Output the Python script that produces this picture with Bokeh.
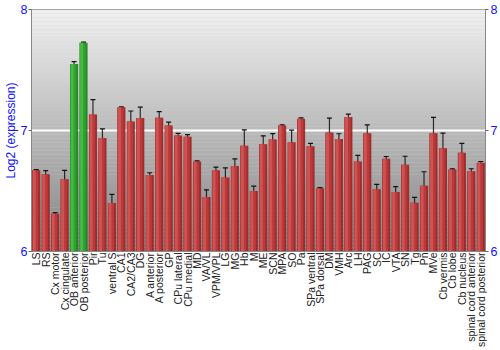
import math
from bokeh.plotting import figure
from bokeh.models import (ColumnDataSource, FactorRange, Range1d, LinearAxis, FixedTicker,
                          Whisker, TeeHead, BoxAnnotation)
from bokeh.transform import dodge
from bokeh.embed import file_html
from bokeh.resources import INLINE

categories = ["LS", "RS", "Cx motor", "Cx cingulate", "OB anterior", "OB posterior", "Pir", "Tu",
              "ventral S", "CA1", "CA2/CA3", "DG", "A anterior", "A posterior", "GP", "CPu lateral",
              "CPu medial", "MD", "VA/VL", "VPM/VPL", "LG", "MG", "Hb", "M", "ME", "SCN", "MPA", "SO",
              "Pa", "SPa ventral", "SPa dorsal", "DM", "VMH", "Arc", "LH", "PAG", "SC", "IC", "VTA",
              "SN", "Tg", "Pn", "MVe", "Cb vermis", "Cb lobe", "Cb nucleus", "spinal cord anterior",
              "spinal cord posterior"]
values = [6.672, 6.639, 6.311, 6.597, 7.550, 7.725, 7.133, 6.939,
          6.400, 7.192, 7.075, 7.103, 6.633, 7.106, 7.042, 6.958,
          6.948, 6.744, 6.450, 6.672, 6.611, 6.706, 6.875, 6.500, 6.886, 6.925, 7.042, 6.903,
          7.097, 6.869, 6.522, 6.983, 6.930, 7.111, 6.744, 6.978, 6.514, 6.767, 6.492,
          6.717, 6.403, 6.544, 6.978, 6.853, 6.678, 6.817, 6.664,
          6.733]
errors = [0.005, 0.030, 0.010, 0.073, 0.020, 0.005, 0.122, 0.074,
          0.072, 0.004, 0.086, 0.090, 0.018, 0.050, 0.028, 0.018,
          0.018, 0.005, 0.060, 0.026, 0.080, 0.060, 0.130, 0.040, 0.070, 0.050, 0.005, 0.100,
          0.007, 0.025, 0.006, 0.120, 0.043, 0.025, 0.050, 0.068, 0.040, 0.018, 0.044,
          0.070, 0.044, 0.115, 0.130, 0.125, 0.005, 0.077, 0.020,
          0.011]
highlight = ["OB anterior", "OB posterior"]
y_ticks = [6, 7, 8]

BLUE = "#1010ff"

dark = ["#1f7f1f" if c in highlight else "#9a2424" for c in categories]
mid = ["#2fa52f" if c in highlight else "#c03a3a" for c in categories]
light = ["#48bd48" if c in highlight else "#d25656" for c in categories]

src = ColumnDataSource(dict(cat=categories, val=values,
                            lo=[v - e for v, e in zip(values, errors)],
                            hi=[v + e for v, e in zip(values, errors)],
                            dark=dark, mid=mid, light=light))

p = figure(width=500, height=350, x_range=FactorRange(factors=categories, range_padding=0),
           y_range=Range1d(6, 8), output_backend="svg", toolbar_location=None,
           min_border_left=0, min_border_right=0, min_border_top=9, min_border_bottom=0)
p.outline_line_color = "#888888"
p.background_fill_color = "#cccccc"
p.border_fill_color = "white"

# vertical gradient background
N = 60
for i in range(N):
    t = i / (N - 1)
    g = int(round(0x84 + (0xf0 - 0x84) * t))
    col = "#%02x%02x%02x" % (g, g, g)
    b = p.y_range.start + (p.y_range.end - p.y_range.start) * i / N
    tp = p.y_range.start + (p.y_range.end - p.y_range.start) * (i + 1) / N
    p.add_layout(BoxAnnotation(bottom=b, top=tp, fill_color=col, fill_alpha=1.0,
                               line_color=None, level="image"))

# bars with cylinder-like shading
p.vbar(x="cat", top="val", bottom=6, width=0.86, source=src, fill_color="dark",
       line_color=None, fill_alpha=0.92)
p.vbar(x=dodge("cat", -0.08, range=p.x_range), top="val", bottom=6, width=0.62, source=src,
       fill_color="mid", line_color=None, fill_alpha=0.92)
p.vbar(x=dodge("cat", -0.2, range=p.x_range), top="val", bottom=6, width=0.3, source=src,
       fill_color="light", line_color=None, fill_alpha=0.9)

w = Whisker(base="cat", lower="lo", upper="hi", source=src, line_color="#111111",
            line_width=1.2, line_alpha=0.85,
            upper_head=TeeHead(size=5, line_color="#111111", line_width=1.2),
            lower_head=TeeHead(size=5, line_color="#111111", line_width=1.2))
p.add_layout(w)

# grid
p.xgrid.visible = False
p.ygrid.ticker = FixedTicker(ticks=[7])
p.ygrid.grid_line_color = "white"
p.ygrid.grid_line_width = 2
p.ygrid.level = "underlay"

# left axis
ya = p.yaxis[0]
ya.ticker = FixedTicker(ticks=y_ticks)
ya.axis_label = "Log2 (expression)"
ya.axis_label_text_color = BLUE
ya.axis_label_text_font = "Liberation Sans"
ya.axis_label_text_font_size = "12px"
ya.axis_label_text_font_style = "normal"
ya.axis_label_standoff = 0
ya.major_label_text_color = BLUE
ya.major_label_text_font = "Liberation Sans"
ya.major_label_text_font_size = "12.5px"
ya.major_label_standoff = 1
ya.major_tick_out = 3
ya.major_tick_in = 0
ya.minor_tick_out = 0
ya.minor_tick_in = 0
ya.axis_line_color = "#888888"
ya.major_tick_line_color = "#666666"

# right axis
ra = LinearAxis(ticker=FixedTicker(ticks=y_ticks))
ra.major_label_text_color = BLUE
ra.major_label_text_font = "Liberation Sans"
ra.major_label_text_font_size = "12.5px"
ra.major_label_standoff = 2
ra.major_tick_out = 3
ra.major_tick_in = 0
ra.minor_tick_out = 0
ra.minor_tick_in = 0
ra.axis_line_color = "#888888"
ra.major_tick_line_color = "#666666"
p.add_layout(ra, "right")

# x axis
xa = p.xaxis[0]
xa.major_label_orientation = math.pi / 2
xa.major_label_text_font = "Liberation Sans"
xa.major_label_text_font_size = "10.5px"
xa.major_label_text_color = "#222222"
xa.major_label_standoff = 1
xa.major_tick_line_color = None
xa.minor_tick_line_color = None
xa.major_tick_out = 0
xa.major_tick_in = 0
xa.axis_line_color = "#888888"

open("out.html", "w").write(file_html(p, INLINE))
